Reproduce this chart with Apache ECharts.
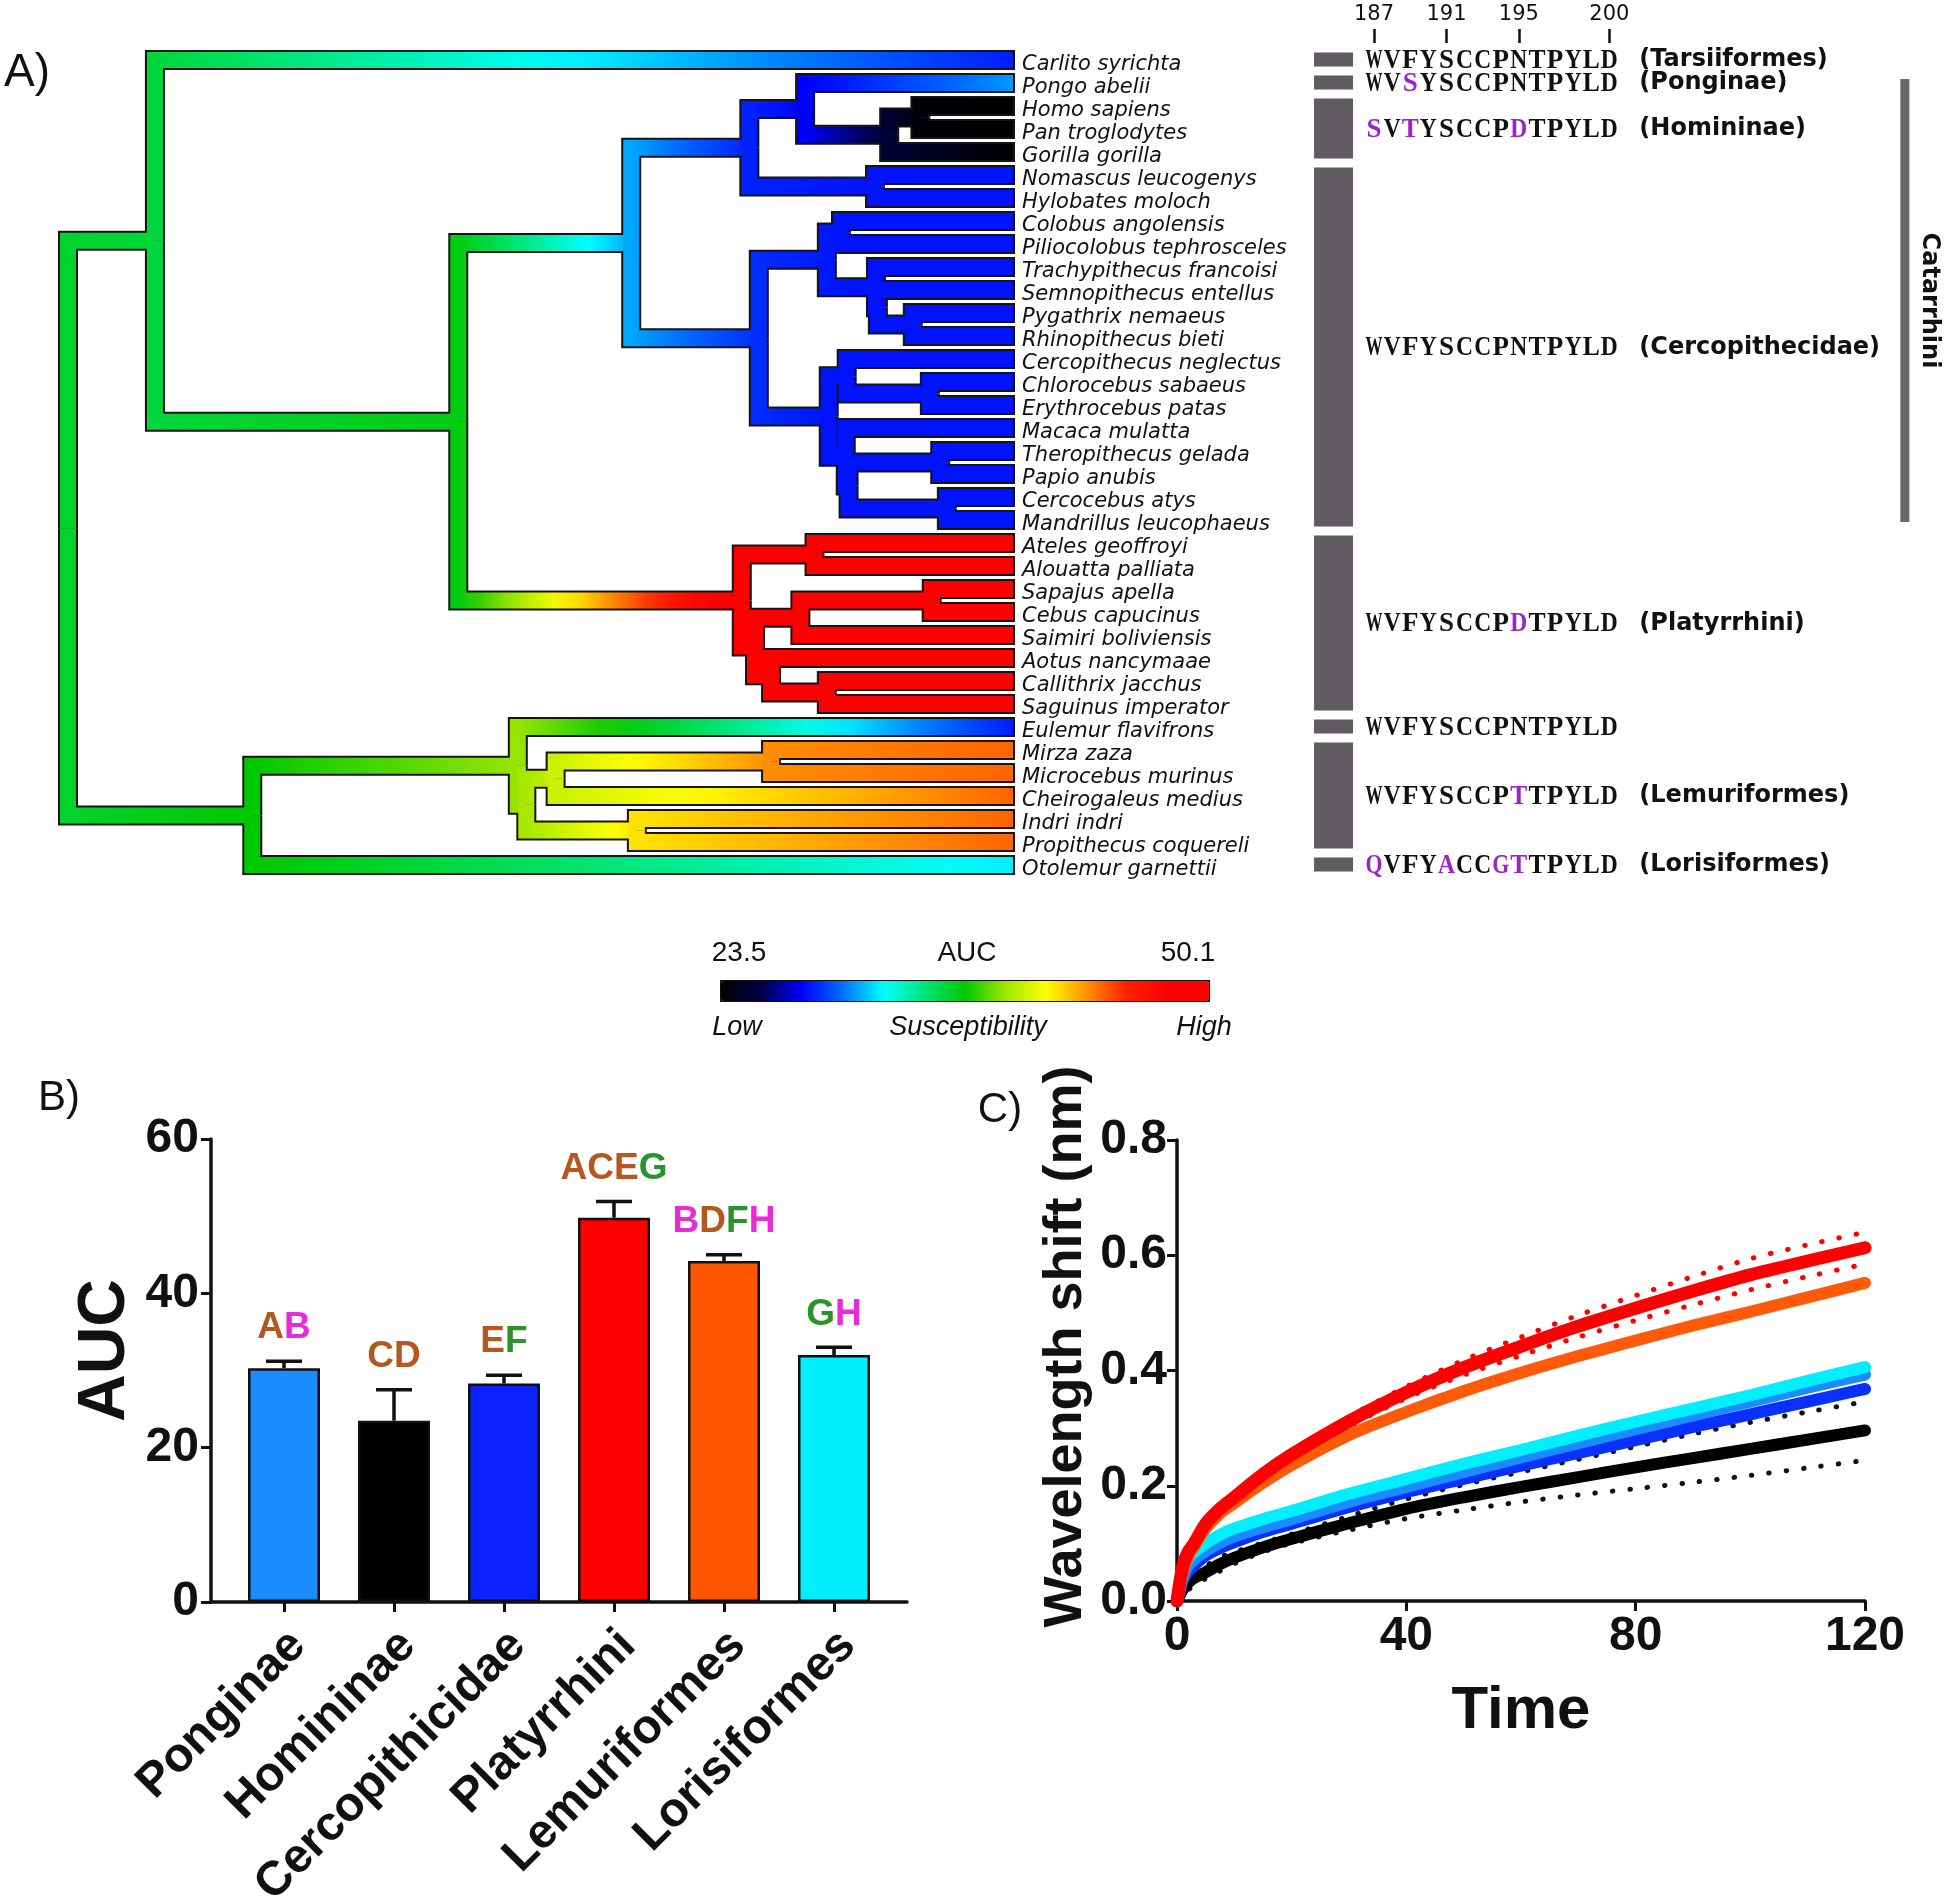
<!DOCTYPE html>
<html><head><meta charset="utf-8">
<script src="https://cdn.jsdelivr.net/npm/echarts/dist/echarts.min.js"></script>
<style>html,body{margin:0;padding:0;background:#fff}#c{width:1946px;height:1901px}</style>
</head><body><div id="c"></div>
<script>
// ---------------- Panel A data ----------------
const SPECIES = ['Carlito syrichta','Pongo abelii','Homo sapiens','Pan troglodytes','Gorilla gorilla','Nomascus leucogenys','Hylobates moloch','Colobus angolensis','Piliocolobus tephrosceles','Trachypithecus francoisi','Semnopithecus entellus','Pygathrix nemaeus','Rhinopithecus bieti','Cercopithecus neglectus','Chlorocebus sabaeus','Erythrocebus patas','Macaca mulatta','Theropithecus gelada','Papio anubis','Cercocebus atys','Mandrillus leucophaeus','Ateles geoffroyi','Alouatta palliata','Sapajus apella','Cebus capucinus','Saimiri boliviensis','Aotus nancymaae','Callithrix jacchus','Saguinus imperator','Eulemur flavifrons','Mirza zaza','Microcebus murinus','Cheirogaleus medius','Indri indri','Propithecus coquereli','Otolemur garnettii'];
const LEAF_AUC = [28.5,30.8,23.5,23.5,23.5,28.3,28.3,28.3,28.3,28.3,28.3,28.3,28.3,28.3,28.3,28.3,28.3,28.3,28.3,28.3,28.3,50.1,50.1,50.1,50.1,50.1,50.1,50.1,50.1,28.5,44.3,44.3,44.3,44.3,44.3,32.1];
const LEAF_DEPTH = 100;
// internal nodes: [name, depth from root, reconstructed AUC, child A, child B]
const TREE_NODES = [
  ['Primates', 0.0, 36.0, 'Haplorhini', 'Strepsirrhini'],
  ['Haplorhini', 9.2, 35.7, 'Carlito syrichta', 'Anthropoidea'],
  ['Anthropoidea', 41.3, 36.5, 'Catarrhini', 'Platyrrhini'],
  ['Catarrhini', 59.6, 31.0, 'Hominoidea', 'Cercopithecidae'],
  ['Hominoidea', 72.1, 28.6, 'Hominidae', 'Hylobatidae'],
  ['Hominidae', 78.0, 27.9, 'Pongo abelii', 'Homininae'],
  ['Homininae', 86.9, 25.1, 'Hominini', 'Gorilla gorilla'],
  ['Hominini', 90.2, 23.8, 'Homo sapiens', 'Pan troglodytes'],
  ['Hylobatidae', 85.4, 28.3, 'Nomascus leucogenys', 'Hylobates moloch'],
  ['Cercopithecidae', 73.1, 28.8, 'Colobinae', 'Cercopithecinae'],
  ['Colobinae', 80.3, 28.4, 'Colobini', 'Presbytini'],
  ['Colobini', 81.8, 28.3, 'Colobus angolensis', 'Piliocolobus tephrosceles'],
  ['Presbytini', 85.5, 28.3, 'Trachypithecus francoisi', 'Semnopithecus+odd-nosed'],
  ['Semnopithecus+odd-nosed', 85.7, 28.3, 'Semnopithecus entellus', 'Odd-nosed'],
  ['Odd-nosed', 89.4, 28.3, 'Pygathrix nemaeus', 'Rhinopithecus bieti'],
  ['Cercopithecinae', 80.5, 28.3, 'Cercopithecini', 'Papionini'],
  ['Cercopithecini', 82.4, 28.3, 'Cercopithecus neglectus', 'Chlorocebus+Erythrocebus'],
  ['Chlorocebus+Erythrocebus', 91.2, 28.3, 'Chlorocebus sabaeus', 'Erythrocebus patas'],
  ['Papionini', 82.3, 28.3, 'Macaca mulatta', 'Papionina'],
  ['Papionina', 82.6, 28.3, 'Theropithecus+Papio', 'Cercocebus+Mandrillus'],
  ['Theropithecus+Papio', 92.3, 28.3, 'Theropithecus gelada', 'Papio anubis'],
  ['Cercocebus+Mandrillus', 93.0, 28.3, 'Cercocebus atys', 'Mandrillus leucophaeus'],
  ['Platyrrhini', 71.3, 49.5, 'Atelidae', 'Cebidae+Aotidae'],
  ['Atelidae', 79.0, 50.0, 'Ateles geoffroyi', 'Alouatta palliata'],
  ['Cebidae+Aotidae', 72.7, 49.8, 'Cebinae', 'Aotus+Callitrichinae'],
  ['Cebinae', 77.5, 50.0, 'Sapajus+Cebus', 'Saimiri boliviensis'],
  ['Sapajus+Cebus', 91.4, 50.1, 'Sapajus apella', 'Cebus capucinus'],
  ['Aotus+Callitrichinae', 74.4, 50.0, 'Aotus nancymaae', 'Callitrichinae'],
  ['Callitrichinae', 80.3, 50.1, 'Callithrix jacchus', 'Saguinus imperator'],
  ['Strepsirrhini', 19.5, 36.8, 'Lemuriformes', 'Otolemur garnettii'],
  ['Lemuriformes', 47.6, 38.9, 'Eulemur flavifrons', 'Cheirogaleidae+Indriidae'],
  ['Cheirogaleidae+Indriidae', 48.5, 39.2, 'Cheirogaleidae', 'Indriidae'],
  ['Cheirogaleidae', 51.6, 40.0, 'Mirza+Microcebus', 'Cheirogaleus medius'],
  ['Mirza+Microcebus', 74.4, 43.5, 'Mirza zaza', 'Microcebus murinus'],
  ['Indriidae', 60.2, 41.8, 'Indri indri', 'Propithecus coquereli']
];
const AUC_MIN = 23.5, AUC_MAX = 50.1;
const COLORMAP = ['#000000','#00004a','#0000ff','#0070ff','#00ffff','#00e678','#00c800','#a0e600','#ffff00','#ff9000','#ff1e00','#ff0000','#ff0000'];

// alignment
const RESIDUES = ['187','188','189','190','191','192','193','194','195','196','197','198','199','200'];
const RESIDUE_TICKS = ['187','191','195','200'];
const GROUP_NAMES = ['(Tarsiiformes)','(Ponginae)','(Homininae)','(Cercopithecidae)','(Platyrrhini)','','(Lemuriformes)','(Lorisiformes)'];
const GROUP_START = [0,1,2,5,21,29,30,35];
const GROUP_END   = [0,1,4,20,28,29,34,35];
const GROUP_SEQ = ['WVFYSCCPNTPYLD','WVSYSCCPNTPYLD','SVTYSCCPDTPYLD','WVFYSCCPNTPYLD','WVFYSCCPDTPYLD','WVFYSCCPNTPYLD','WVFYSCCPTTPYLD','QVFYACCGTTPYLD'];
const REFERENCE_SEQ = 'WVFYSCCPNTPYLD';
const CLADE_NAME = 'Catarrhini', CLADE_START = 1, CLADE_END = 20;

// ---------------- Panel B data ----------------
const BAR_GROUPS = ['Ponginae','Homininae','Cercopithicidae','Platyrrhini','Lemuriformes','Lorisiformes'];
const BAR_MEAN = [30.3, 23.5, 28.3, 49.8, 44.2, 32.0];
const BAR_SEM  = [0.9, 4.0, 1.1, 2.1, 0.8, 1.0];
const BAR_LETTERS = ['AB','CD','EF','ACEG','BDFH','GH'];
const BAR_COLORS = ['#1b8cff','#000000','#0a22ff','#ff0000','#ff5500','#00efff'];
const LETTER_COLORS = {A:'#b5581f',B:'#e82ad8',C:'#b5581f',D:'#b5581f',E:'#b5581f',F:'#2a932a',G:'#2a932a',H:'#e82ad8'};

// ---------------- Panel C data ----------------
const TIMES = [0,1,2,3,5,7.5,10,15,20,30,40,50,60,70,80,90,100,110,120];
const PLATYRRHINI_SHIFT = [0,0.06,0.086,0.1,0.134,0.16,0.18,0.22,0.254,0.312,0.362,0.405,0.442,0.477,0.508,0.538,0.566,0.59,0.613];
const PLATYRRHINI_UPPER = [0,0.062,0.09,0.105,0.14,0.166,0.186,0.226,0.26,0.32,0.372,0.418,0.458,0.496,0.53,0.563,0.594,0.618,0.64];
const PLATYRRHINI_LOWER = [0,0.058,0.082,0.095,0.128,0.154,0.176,0.213,0.247,0.303,0.352,0.392,0.426,0.458,0.487,0.514,0.54,0.563,0.585];
const LEMURIFORMES_SHIFT = [0,0.05,0.078,0.095,0.126,0.152,0.17,0.205,0.236,0.288,0.328,0.364,0.396,0.425,0.452,0.478,0.502,0.527,0.552];
const LORISIFORMES_SHIFT = [0,0.05,0.075,0.085,0.1,0.115,0.126,0.142,0.156,0.186,0.212,0.238,0.262,0.287,0.311,0.334,0.357,0.382,0.406];
const PONGINAE_SHIFT = [0,0.04,0.062,0.072,0.087,0.101,0.112,0.128,0.142,0.172,0.198,0.224,0.249,0.274,0.298,0.322,0.346,0.37,0.393];
const CERCOPITHECIDAE_SHIFT = [0,0.035,0.052,0.062,0.079,0.092,0.102,0.12,0.134,0.163,0.189,0.212,0.235,0.257,0.279,0.302,0.324,0.346,0.368];
const HOMININAE_SHIFT = [0,0.02,0.032,0.04,0.05,0.064,0.075,0.093,0.108,0.135,0.16,0.18,0.198,0.215,0.232,0.248,0.264,0.28,0.296];
const HOMININAE_UPPER = [0,0.03,0.044,0.054,0.061,0.076,0.085,0.101,0.116,0.147,0.177,0.202,0.224,0.246,0.268,0.29,0.31,0.328,0.346];
const HOMININAE_LOWER = [0,0.01,0.02,0.026,0.039,0.052,0.065,0.085,0.1,0.123,0.143,0.158,0.172,0.184,0.195,0.206,0.218,0.231,0.244];

// ---------------- helpers ----------------
function aucColor(v){ return echarts.color.lerp(Math.max(0,Math.min(1,(v-AUC_MIN)/(AUC_MAX-AUC_MIN))), COLORMAP); }
const nodeMap = {};
TREE_NODES.forEach(n => { nodeMap[n[0]] = {depth:n[1], auc:n[2], kids:[n[3], n[4]]}; });
SPECIES.forEach((s,i) => { nodeMap[s] = {depth:LEAF_DEPTH, auc:LEAF_AUC[i], kids:[], y:i}; });
function yOf(name){ const n = nodeMap[name]; if (n.y === undefined) n.y = (yOf(n.kids[0]) + yOf(n.kids[1]))/2; return n.y; }
const BRANCHES = [];
TREE_NODES.forEach(n => { const p = nodeMap[n[0]]; [n[3], n[4]].forEach(c => { const ch = nodeMap[c];
  BRANCHES.push({px:p.depth, py:yOf(n[0]), cx:ch.depth, cy:yOf(c), pv:p.auc, cv:ch.auc}); }); });

function rowGeom(api){ const a = api.coord([0,0]), b = api.coord([0,1]); return {y0:a[1], step:b[1]-a[1]}; }
function branchPoints(api, br, extend){
  const g = rowGeom(api);
  const x1 = api.coord([br.px,0])[0], x2 = api.coord([br.cx,0])[0] + extend;
  const y1 = g.y0 + br.py*g.step, y2 = g.y0 + br.cy*g.step;
  return [[x1,y1],[x1,y2],[x2,y2]];
}
const SEQ_ITEMS = [];
GROUP_SEQ.forEach((s,g) => { for (let r=0;r<s.length;r++) SEQ_ITEMS.push([r, GROUP_START[g], g]); });
const PURPLE = '#9b22cc';
const FONT = 'Liberation Sans';
const SEQ_FONT = 'bold 27px "Liberation Serif"';
const measureCtx = document.createElement('canvas').getContext('2d');
measureCtx.font = SEQ_FONT;
function glyphScale(ch){ const w = measureCtx.measureText(ch).width; return w > 17 ? 17 / w : 1; }

const chart = echarts.init(document.getElementById('c'), null, {renderer:'canvas'});
const axisBlack = {color:'#111', width:3.5};
const T = (x, y, text, font, extra) => Object.assign({type:'text', x:x, y:y, style:{text:text, font:font, fill:'#111', align:'center', verticalAlign:'middle', textAlign:'center', textVerticalAlign:'middle'}}, extra || {});
const option = {
  animation:false,
  backgroundColor:'#fff',
  textStyle:{fontFamily:FONT},
  grid:[
    {left:68, top:48.5, width:945, height:828, outerBoundsMode:'none'},
    {left:1365, top:48.5, width:253.4, height:828, outerBoundsMode:'none'},
    {left:211, top:1139, width:696, height:463, outerBoundsMode:'none'},
    {left:229, top:1139, width:660, height:463, outerBoundsMode:'none'},
    {left:1177, top:1140, width:688, height:461, outerBoundsMode:'none'}
  ],
  xAxis:[
    {gridIndex:0, type:'value', min:0, max:100, show:false},
    {gridIndex:1, type:'category', data:RESIDUES, position:'top', offset:5.5,
      axisLine:{show:false}, splitLine:{show:false},
      axisTick:{show:true, alignWithLabel:true, length:14, interval:(i,v)=>RESIDUE_TICKS.includes(v), lineStyle:{color:'#111', width:2.5}},
      axisLabel:{show:true, interval:(i,v)=>RESIDUE_TICKS.includes(v), fontFamily:'DejaVu Sans', fontSize:21, color:'#111', margin:18}},
    {gridIndex:2, type:'value', min:0, max:1, axisLine:{show:true, onZero:false, lineStyle:axisBlack}, axisTick:{show:false}, axisLabel:{show:false}, splitLine:{show:false}},
    {gridIndex:3, type:'category', data:BAR_GROUPS, axisLine:{show:false},
      axisTick:{show:true, alignWithLabel:true, length:10, lineStyle:{color:'#111', width:3}},
      axisLabel:{interval:0, rotate:45, fontSize:48, fontWeight:'bold', color:'#111', margin:22, verticalAlign:'top', lineHeight:40, fontFamily:FONT}},
    {gridIndex:4, type:'value', min:0, max:120, interval:40, axisLine:{show:true, onZero:false, lineStyle:axisBlack},
      axisTick:{show:true, length:10, lineStyle:{color:'#111', width:3}}, splitLine:{show:false},
      axisLabel:{fontSize:48, fontWeight:'bold', color:'#111', margin:12, fontFamily:FONT},
      name:'Time', nameLocation:'middle', nameGap:80, nameTextStyle:{fontSize:60, fontWeight:'bold', color:'#111', fontFamily:FONT}}
  ],
  yAxis:[
    {gridIndex:0, type:'category', data:SPECIES, inverse:true, position:'right', axisLine:{show:false}, axisTick:{show:false},
      axisLabel:{interval:0, fontStyle:'italic', fontFamily:'DejaVu Sans', fontSize:21, color:'#111', margin:9, verticalAlign:'top', lineHeight:10}},
    {gridIndex:1, type:'category', data:SPECIES, inverse:true, show:false},
    {gridIndex:2, type:'value', min:0, max:1, show:false},
    {gridIndex:3, type:'value', min:0, max:60, interval:20, offset:18,
      axisLine:{show:true, lineStyle:axisBlack}, axisTick:{show:true, length:10, lineStyle:{color:'#111', width:3}}, splitLine:{show:false},
      axisLabel:{fontSize:48, fontWeight:'bold', color:'#111', margin:12, fontFamily:FONT},
      name:'AUC', nameLocation:'middle', nameGap:72, nameTextStyle:{fontSize:66, fontWeight:'bold', color:'#111', fontFamily:FONT, padding:[0,0,0,40]}},
    {gridIndex:4, type:'value', min:0, max:0.8, interval:0.2,
      axisLine:{show:true, onZero:false, lineStyle:axisBlack}, axisTick:{show:true, length:10, lineStyle:{color:'#111', width:3}}, splitLine:{show:false},
      axisLabel:{fontSize:48, fontWeight:'bold', color:'#111', margin:10, fontFamily:FONT, formatter:v=>v.toFixed(1)},
      name:'Wavelength shift (nm)', nameLocation:'middle', nameGap:84, nameTextStyle:{fontSize:54, fontWeight:'bold', color:'#111', fontFamily:FONT, padding:[0,0,0,48]}}
  ],
  visualMap:[{type:'continuous', seriesIndex:0, dimension:2, min:AUC_MIN, max:AUC_MAX, orient:'horizontal', left:720, top:980,
    itemWidth:20, itemHeight:488, calculable:false, text:null, padding:0, borderColor:'#111', borderWidth:2,
    inRange:{color:COLORMAP}}],
  graphic:[
    T(27, 73, 'A)', '46px "Liberation Sans"'),
    T(59, 1098, 'B)', '42px "Liberation Sans"'),
    T(1000, 1110, 'C)', '42px "Liberation Sans"'),
    T(739, 953, String(AUC_MIN), '28px "Liberation Sans"'),
    T(967, 953, 'AUC', '28px "Liberation Sans"'),
    T(1188, 953, String(AUC_MAX), '28px "Liberation Sans"'),
    T(737, 1027, 'Low', 'italic 27px "Liberation Sans"'),
    T(968, 1027, 'Susceptibility', 'italic 27px "Liberation Sans"'),
    T(1204, 1027, 'High', 'italic 27px "Liberation Sans"')
  ],
  series:[
    // 0: tree outline
    {type:'custom', name:'tree-outline', xAxisIndex:0, yAxisIndex:0, silent:true, clip:false,
      data:BRANCHES.map(b=>[b.cx, Math.round(b.cy), b.cv]),
      renderItem:(params, api)=>{ const br = BRANCHES[params.dataIndex];
        return {type:'polyline', shape:{points:branchPoints(api, br, 2)}, style:{stroke:'#151515', lineWidth:20, fill:'none', lineJoin:'miter', lineCap:'butt'}}; }},
    // 1: tree fill (colour gradient along each branch)
    {type:'custom', name:'tree-fill', xAxisIndex:0, yAxisIndex:0, silent:true, clip:false,
      data:BRANCHES.map(b=>[b.cx, Math.round(b.cy), b.cv]),
      renderItem:(params, api)=>{ const br = BRANCHES[params.dataIndex]; const pts = branchPoints(api, br, 0);
        const x1 = pts[0][0], x2 = pts[2][0]; let stroke;
        if (x2 - x1 < 1) stroke = aucColor(br.cv);
        else { const stops = []; for (let k=0;k<=12;k++){ const f=k/12; stops.push({offset:f, color:aucColor(br.pv + f*(br.cv-br.pv))}); }
          stroke = new echarts.graphic.LinearGradient(x1, 0, x2, 0, stops, true); }
        return {type:'polyline', shape:{points:pts}, style:{stroke:stroke, lineWidth:16, fill:'none', lineJoin:'miter', lineCap:'butt'}}; }},
    // 2: alignment grey bars
    {type:'custom', name:'groups', xAxisIndex:1, yAxisIndex:1, silent:true, clip:false,
      data:GROUP_START.map(s=>[0, s]),
      renderItem:(params, api)=>{ const i = params.dataIndex; const g = rowGeom(api); const cx = api.coord([0,0])[0];
        const yA = g.y0 + GROUP_START[i]*g.step - 7.5, yB = g.y0 + GROUP_END[i]*g.step + 6.5;
        return {type:'rect', shape:{x:cx-60, y:yA, width:39, height:yB-yA}, style:{fill:'#5f5b61'}}; }},
    // 3: sequence letters
    {type:'custom', name:'sequence', xAxisIndex:1, yAxisIndex:1, silent:true, clip:false,
      data:SEQ_ITEMS,
      renderItem:(params, api)=>{ const it = SEQ_ITEMS[params.dataIndex]; const r = it[0], gi = it[2]; const g = rowGeom(api);
        const ch = GROUP_SEQ[gi][r]; const x = api.coord([r,0])[0]; const y = g.y0 + (GROUP_START[gi]+GROUP_END[gi])/2*g.step + 1;
        return {type:'text', x:x, y:y, scaleX:glyphScale(ch), style:{text:ch, font:SEQ_FONT, fill: ch!==REFERENCE_SEQ[r] ? PURPLE : '#111',
          align:'center', verticalAlign:'middle', textAlign:'center', textVerticalAlign:'middle'}}; }},
    // 4: group names
    {type:'custom', name:'group-names', xAxisIndex:1, yAxisIndex:1, silent:true, clip:false,
      data:GROUP_START.map(s=>[RESIDUES.length-1, s]),
      renderItem:(params, api)=>{ const i = params.dataIndex; const g = rowGeom(api);
        const x = api.coord([RESIDUES.length-1,0])[0] + 30; const y = g.y0 + (GROUP_START[i]+GROUP_END[i])/2*g.step;
        return {type:'text', x:x, y:y, style:{text:GROUP_NAMES[i], font:'bold 24px "DejaVu Sans"', fill:'#111', align:'left', verticalAlign:'middle', textAlign:'left', textVerticalAlign:'middle'}}; }},
    // 5: clade bar
    {type:'custom', name:'clade', xAxisIndex:1, yAxisIndex:1, silent:true, clip:false,
      data:[[RESIDUES.length-1, CLADE_START]],
      renderItem:(params, api)=>{ const g = rowGeom(api); const x = api.coord([RESIDUES.length-1,0])[0] + 291;
        const yA = g.y0 + CLADE_START*g.step - 4, yB = g.y0 + CLADE_END*g.step + 2;
        return {type:'group', children:[
          {type:'rect', shape:{x:x, y:yA, width:9, height:yB-yA}, style:{fill:'#6a666c'}},
          {type:'text', x:x+29, y:(yA+yB)/2, rotation:-Math.PI/2, style:{text:CLADE_NAME, font:'bold 24px "DejaVu Sans"', fill:'#111', align:'center', verticalAlign:'middle', textAlign:'center', textVerticalAlign:'middle'}}
        ]}; }},
    // 6: bars
    {type:'bar', name:'AUC', xAxisIndex:3, yAxisIndex:3, barWidth:72, silent:true,
      itemStyle:{borderColor:'#111', borderWidth:2.5},
      data:BAR_MEAN.map((v,i)=>({value:v, itemStyle:{color:BAR_COLORS[i]}}))},
    // 7: error bars
    {type:'custom', name:'sem', xAxisIndex:3, yAxisIndex:3, silent:true, z:3,
      data:BAR_MEAN.map((v,i)=>[i, v, v+BAR_SEM[i]]), encode:{x:0, y:[1,2]},
      renderItem:(params, api)=>{ const b = api.coord([api.value(0), api.value(1)]), t = api.coord([api.value(0), api.value(2)]);
        const st = {stroke:'#111', lineWidth:3.5};
        return {type:'group', children:[
          {type:'line', shape:{x1:b[0], y1:b[1], x2:t[0], y2:t[1]}, style:st},
          {type:'line', shape:{x1:t[0]-18, y1:t[1], x2:t[0]+18, y2:t[1]}, style:st}]}; }},
    // 8: significance letters
    {type:'custom', name:'letters', xAxisIndex:3, yAxisIndex:3, silent:true, z:4,
      data:BAR_MEAN.map((v,i)=>[i, v+BAR_SEM[i]]),
      renderItem:(params, api)=>{ const i = params.dataIndex; const p = api.coord([api.value(0), api.value(1)]);
        const rich = {}; let txt = '';
        BAR_LETTERS[i].split('').forEach(L=>{ txt += '{'+L+'|'+L+'}'; rich[L] = {fill:LETTER_COLORS[L], font:'bold 37px "Liberation Sans"', fontSize:37, fontWeight:'bold', fontFamily:FONT}; });
        return {type:'text', x:p[0], y:p[1]-33, style:{text:txt, rich:rich, font:'bold 37px "Liberation Sans"', align:'center', verticalAlign:'middle', textAlign:'center', textVerticalAlign:'middle'}}; }},
    // 9+: panel C
    {type:'line', name:'Homininae lower', xAxisIndex:4, yAxisIndex:4, data:TIMES.map((t,i)=>[t,HOMININAE_LOWER[i]]), symbol:'none', smooth:0.3, silent:true,
      lineStyle:{color:'#111', width:5, type:[0.5,17], cap:'round'}},
    {type:'line', name:'Homininae upper', xAxisIndex:4, yAxisIndex:4, data:TIMES.map((t,i)=>[t,HOMININAE_UPPER[i]]), symbol:'none', smooth:0.3, silent:true,
      lineStyle:{color:'#111', width:5, type:[0.5,17], cap:'round'}},
    {type:'line', name:'Homininae', xAxisIndex:4, yAxisIndex:4, data:TIMES.map((t,i)=>[t,HOMININAE_SHIFT[i]]), symbol:'none', smooth:0.3, silent:true,
      lineStyle:{color:'#000000', width:12, cap:'round', join:'round'}},
    {type:'line', name:'Cercopithecidae', xAxisIndex:4, yAxisIndex:4, data:TIMES.map((t,i)=>[t,CERCOPITHECIDAE_SHIFT[i]]), symbol:'none', smooth:0.3, silent:true,
      lineStyle:{color:'#0a30ff', width:12, cap:'round', join:'round'}},
    {type:'line', name:'Ponginae', xAxisIndex:4, yAxisIndex:4, data:TIMES.map((t,i)=>[t,PONGINAE_SHIFT[i]]), symbol:'none', smooth:0.3, silent:true,
      lineStyle:{color:'#1b8cff', width:12, cap:'round', join:'round'}},
    {type:'line', name:'Lorisiformes', xAxisIndex:4, yAxisIndex:4, data:TIMES.map((t,i)=>[t,LORISIFORMES_SHIFT[i]]), symbol:'none', smooth:0.3, silent:true,
      lineStyle:{color:'#00efff', width:12, cap:'round', join:'round'}},
    {type:'line', name:'Lemuriformes', xAxisIndex:4, yAxisIndex:4, data:TIMES.map((t,i)=>[t,LEMURIFORMES_SHIFT[i]]), symbol:'none', smooth:0.3, silent:true,
      lineStyle:{color:'#ff5a0a', width:12, cap:'round', join:'round'}},
    {type:'line', name:'Platyrrhini', xAxisIndex:4, yAxisIndex:4, data:TIMES.map((t,i)=>[t,PLATYRRHINI_SHIFT[i]]), symbol:'none', smooth:0.3, silent:true,
      lineStyle:{color:'#ff0000', width:13, cap:'round', join:'round'}},
    {type:'line', name:'Platyrrhini upper', xAxisIndex:4, yAxisIndex:4, data:TIMES.map((t,i)=>[t,PLATYRRHINI_UPPER[i]]), symbol:'none', smooth:0.3, silent:true,
      lineStyle:{color:'#ff0000', width:5, type:[0.5,17], cap:'round'}},
    {type:'line', name:'Platyrrhini lower', xAxisIndex:4, yAxisIndex:4, data:TIMES.map((t,i)=>[t,PLATYRRHINI_LOWER[i]]), symbol:'none', smooth:0.3, silent:true,
      lineStyle:{color:'#ff0000', width:5, type:[0.5,17], cap:'round'}}
  ]
};
chart.setOption(option);
</script></body></html>
